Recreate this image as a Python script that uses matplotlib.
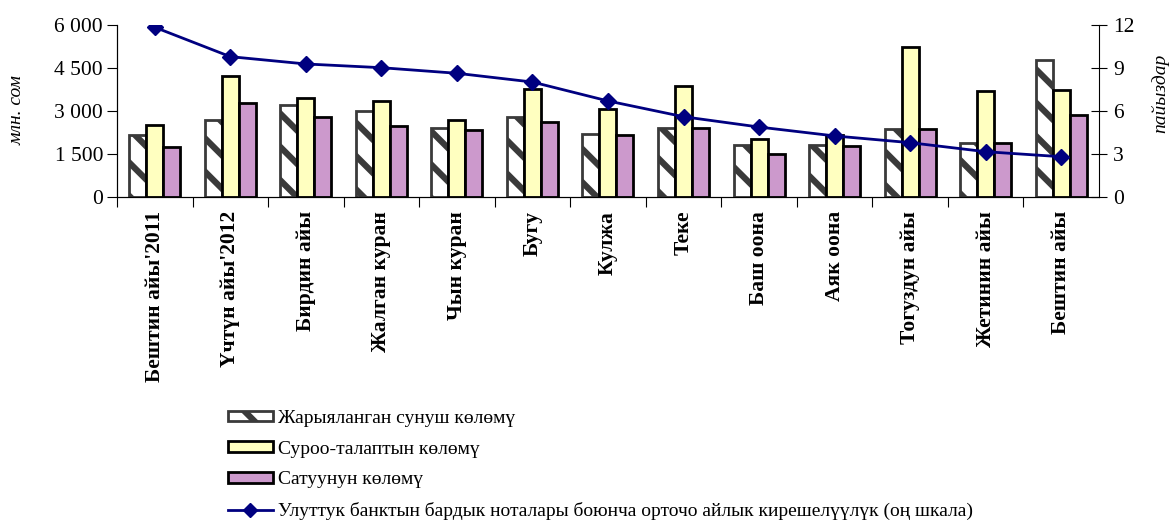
import numpy as np
import matplotlib.pyplot as plt
from matplotlib.lines import Line2D
from matplotlib.patches import Patch

plt.rcParams['font.family'] = ['Liberation Serif', 'DejaVu Serif']
plt.rcParams['hatch.linewidth'] = 4.5

months = ["Бештин айы'2011", "Үчтүн айы'2012", "Бирдин айы", "Жалган куран",
          "Чын куран", "Бугу", "Кулжа", "Теке", "Баш оона", "Аяк оона",
          "Тогуздун айы", "Жетинин айы", "Бештин айы"]

offer = [2160, 2670, 3210, 3010, 2410, 2780, 2210, 2420, 1810, 1830, 2380, 1900, 4770]
demand = [2500, 4210, 3450, 3360, 2690, 3760, 3070, 3860, 2020, 2160, 5230, 3700, 3730]
sales = [1730, 3270, 2780, 2480, 2330, 2620, 2170, 2420, 1500, 1790, 2360, 1900, 2860]
rate = [11.84, 9.79, 9.28, 9.02, 8.63, 8.02, 6.70, 5.60, 4.88, 4.26, 3.79, 3.16, 2.81]

labels = ["Жарыяланган сунуш көлөмү", "Суроо-талаптын көлөмү", "Сатуунун көлөмү",
          "Улуттук банктын бардык ноталары боюнча орточо айлык кирешелүүлүк (оң шкала)"]

x = np.arange(len(months))
w = 0.225

fig = plt.figure(figsize=(11.71, 5.27), dpi=100)
ax = fig.add_axes([0.0999, 0.6262, 0.8386, 0.3264])

# bars: offered / demand / sold
ax.bar(x - w, offer, w, color='white', edgecolor='#3a3a3a', hatch='\\', linewidth=2, zorder=2)
ax.bar(x, demand, w, color='#FFFFC0', edgecolor='black', linewidth=2, zorder=2)
ax.bar(x + w, sales, w, color='#CC99CC', edgecolor='black', linewidth=2, zorder=2)

ax.set_xlim(-0.5, len(months) - 0.5)
ax.set_ylim(0, 6000)
ax.set_yticks([0, 1500, 3000, 4500, 6000])
ax.set_yticklabels(['0', '1 500', '3 000', '4 500', '6 000'], fontsize=15.5)
ax.set_xticks(x - 0.5)
ax.set_xticklabels([])
ax.set_xticks(x, minor=True)
ax.set_xticklabels(months, minor=True, rotation=90, fontweight='bold', fontsize=15.5, va='top')
ax.tick_params(axis='x', which='major', length=7, direction='out')
ax.tick_params(axis='x', which='minor', length=0, pad=10)
ax.tick_params(axis='y', length=7, direction='out', pad=3)
ax.spines['top'].set_visible(False)
ax.spines['right'].set_visible(False)

# right scale: yield line
ax2 = ax.twinx()
ax2.plot(x, rate, color='#000080', linewidth=2, marker='D', markersize=8.5, zorder=3)
ax2.set_ylim(0, 12)
ax2.set_yticks([0, 3, 6, 9, 12])
ax2.set_yticklabels(['0', '3', '6', '9', '12'], fontsize=15.5)
ax2.tick_params(axis='y', length=12, direction='inout', pad=4)
ax2.spines['top'].set_visible(False)

fig.text(17 / 1171, 1 - 110 / 527, 'млн. сом', rotation=90, fontstyle='italic',
         fontsize=14, ha='center', va='center')
fig.text(1160 / 1171, 1 - 93 / 527, 'пайыздар', rotation=90, fontstyle='italic',
         fontsize=14, ha='center', va='center')

handles = [Patch(facecolor='white', edgecolor='#3a3a3a', hatch='\\', linewidth=2),
           Patch(facecolor='#FFFFC0', edgecolor='black', linewidth=2),
           Patch(facecolor='#CC99CC', edgecolor='black', linewidth=2),
           Line2D([], [], color='#000080', linewidth=2, marker='D', markersize=7.5)]
fig.legend(handles, labels, loc='upper left', bbox_to_anchor=(0.1947, 0.222),
           frameon=False, fontsize=14, handlelength=2.3, handleheight=0.45,
           handletextpad=0.25, labelspacing=0.7, borderpad=0, borderaxespad=0)

fig.savefig('out.png', dpi=100)
